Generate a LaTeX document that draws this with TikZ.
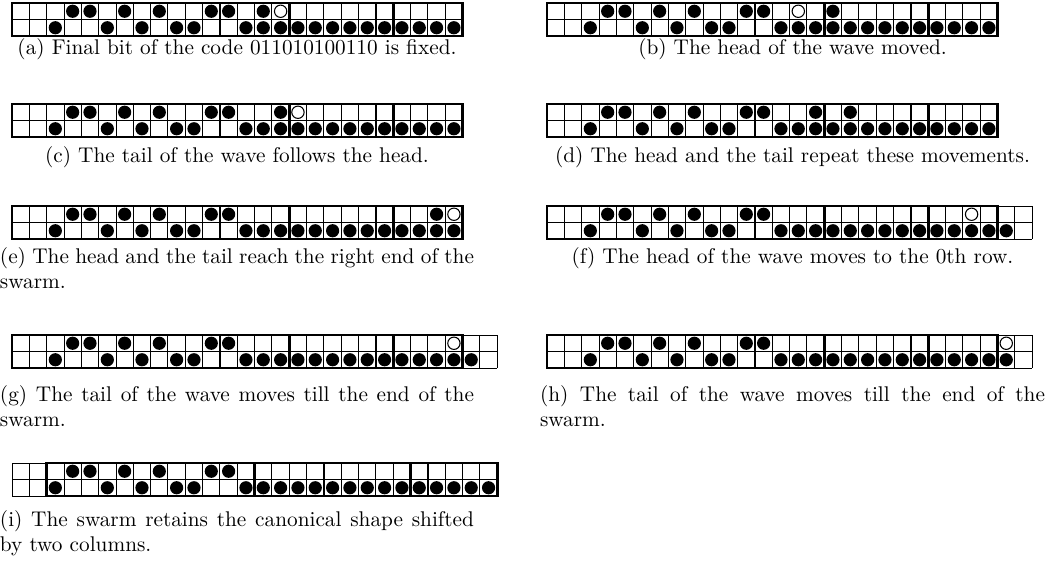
\documentclass[tikz,border=0pt]{standalone}
\tikzset{
  thinline/.style={line width=0.45pt},
  thickline/.style={line width=1.2pt},
  hole/.style={draw=black, fill=white, line width=0.5pt},
  captext/.style={inner sep=0pt, anchor=north, font=\normalsize},
  leftcap/.style={captext, text width=222.8pt},
  rightcap/.style={captext, text width=237.3pt},
}
% #1 x, #2 y, #3 number of columns, #4 first column of the framed swarm, #5 top-row dots, #6 bottom-row dots
\newcommand\swarmgrid[6]{%
  \begin{scope}[shift={(#1,#2)},x=8.145pt,y=-7.755pt]
    \foreach \c in {0,...,#3} \draw[thinline] (\c,0) -- (\c,2);
    \foreach \r in {0,1,2} \draw[thinline] (0,\r) -- (#3,\r);
    \foreach \c in {#5} \fill (\c+0.5,0.5) circle[radius=3.1pt];
    \foreach \c in {#6} \fill (\c+0.5,1.5) circle[radius=3.1pt];
    \draw[thickline] (#4,0) rectangle ++(26,2);
    \foreach \k in {12,16,21,22} \draw[thickline] (#4+\k,0) -- (#4+\k,2);
  \end{scope}}
% #1 x, #2 y, #3 column of the empty (open) cell in the top row
\newcommand\swarmhole[3]{%
  \begin{scope}[shift={(#1,#2)},x=8.145pt,y=-7.755pt]
    \draw[hole] (#3+0.5,0.5) circle[radius=2.9pt];
  \end{scope}}
\begin{document}
\begin{tikzpicture}[x=0.47pt,y=-0.47pt]
\useasboundingbox (0,0) rectangle (1047,565);
% (a)
\swarmgrid{12}{3}{26}{0}{3,4,6,8,11,12,14}{2,5,7,9,10,13,14,...,25}
\swarmhole{12}{3}{15}
\node[leftcap, align=center] (capa) at (237,38) {(a) Final bit of the code 011010100110 is fixed.};
% (b)
\swarmgrid{547}{3}{26}{0}{3,4,6,8,11,12,16}{2,5,7,9,10,13,14,...,25}
\swarmhole{547}{3}{14}
\node[rightcap, align=center] (capb) at (792.5,38) {(b) The head of the wave moved.};
% (c)
\swarmgrid{12}{104}{26}{0}{3,4,6,8,11,12,15}{2,5,7,9,10,13,14,...,25}
\swarmhole{12}{104}{16}
\node[leftcap, align=center] (capc) at (237,146) {(c) The tail of the wave follows the head.};
% (d)
\swarmgrid{547}{104}{26}{0}{3,4,6,8,11,12,15,17}{2,5,7,9,10,13,14,...,25}
\node[rightcap, align=center] (capd) at (792.5,146) {(d) The head and the tail repeat these movements.};
% (e)
\swarmgrid{12}{206}{26}{0}{3,4,6,8,11,12,24}{2,5,7,9,10,13,14,...,25}
\swarmhole{12}{206}{25}
\node[leftcap, align=justify] (cape) at (237,247) {(e) The head and the tail reach the right end of the swarm.};
% (f)
\swarmgrid{547}{206}{28}{0}{3,4,6,8,11,12}{2,5,7,9,10,13,14,...,26}
\swarmhole{547}{206}{24}
\node[rightcap, align=center] (capf) at (792.5,247) {(f) The head of the wave moves to the 0th row.};
% (g)
\swarmgrid{12}{335}{28}{0}{3,4,6,8,11,12}{2,5,7,9,10,13,14,...,26}
\swarmhole{12}{335}{25}
\node[leftcap, align=justify] (capg) at (237,385) {(g) The tail of the wave moves till the end of the swarm.};
% (h)
\swarmgrid{547}{335}{28}{0}{3,4,6,8,11,12}{2,5,7,9,10,13,14,...,26}
\swarmhole{547}{335}{26}
\node[rightcap, align=justify] (caph) at (792.5,385) {(h) The tail of the wave moves till the end of the\linebreak swarm.};
% (i)
\swarmgrid{12}{463}{28}{2}{3,4,6,8,11,12}{2,5,7,9,10,13,14,...,27}
\node[leftcap, align=justify] (capi) at (237,510) {(i) The swarm retains the canonical shape shifted by two columns.};
\end{tikzpicture}
\end{document}
